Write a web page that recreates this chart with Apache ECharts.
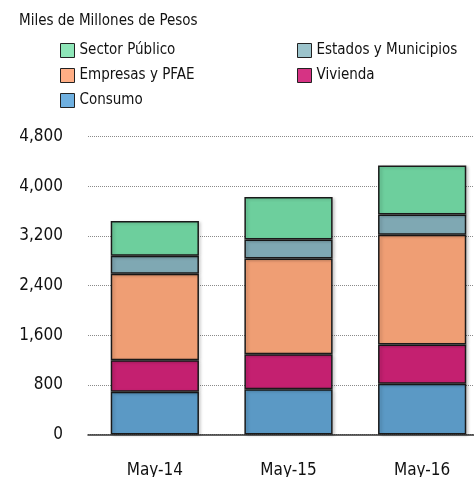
<!DOCTYPE html>
<html lang="es">
<head>
    <meta charset="UTF-8">
    <title>Crédito por sector</title>
    <script src="https://cdn.jsdelivr.net/npm/echarts@6/dist/echarts.min.js"></script>
    <style>
        html, body { margin: 0; padding: 0; background: #fff; }
        #chart { width: 474px; height: 477px; }
    </style>
</head>
<body>
<div id="chart"></div>
<script>
    // datos (miles de millones de pesos)
    var categories = ['May-14', 'May-15', 'May-16'];
    var consumo = [690, 729, 819];
    var vivienda = [507, 565, 629];
    var empresas = [1392, 1541, 1770];
    var estados = [290, 307, 327];
    var sectorPublico = [560, 684, 786];
    var yTicks = [0, 800, 1600, 2400, 3200, 4000, 4800];

    var font = '"DejaVu Sans Condensed", "Liberation Sans Narrow", sans-serif';
    var myChart = echarts.init(document.getElementById('chart'));

    function barSeries(name, data, color) {
        return {
            name: name,
            type: 'bar',
            stack: 'total',
            barCategoryGap: '34%',
            data: data,
            itemStyle: {
                color: color,
                borderColor: '#1a1a1a',
                borderWidth: 1.5,
                shadowColor: 'rgba(0,0,0,0.18)',
                shadowBlur: 3,
                shadowOffsetX: 2,
                shadowOffsetY: 1
            }
        };
    }

    var legendText = { fontFamily: font, fontSize: 15, color: '#111' };
    var option = {
        animation: false,
        title: {
            text: 'Miles de Millones de Pesos',
            left: 14,
            top: 9,
            textStyle: { fontFamily: font, fontSize: 15, fontWeight: 'normal', color: '#111' }
        },
        legend: [{
            orient: 'vertical',
            left: 55,
            top: 38,
            itemWidth: 14,
            itemHeight: 14,
            itemGap: 10,
            icon: 'rect',
            textStyle: legendText,
            data: [
                { name: 'Sector Público', itemStyle: { color: '#8ee6b8', borderColor: '#222', borderWidth: 1 } },
                { name: 'Empresas y PFAE', itemStyle: { color: '#ffae85', borderColor: '#222', borderWidth: 1 } },
                { name: 'Consumo', itemStyle: { color: '#6fb0e0', borderColor: '#222', borderWidth: 1 } }
            ]
        }, {
            orient: 'vertical',
            left: 292,
            top: 38,
            itemWidth: 14,
            itemHeight: 14,
            itemGap: 10,
            icon: 'rect',
            textStyle: legendText,
            data: [
                { name: 'Estados y Municipios', itemStyle: { color: '#9cc4cc', borderColor: '#222', borderWidth: 1 } },
                { name: 'Vivienda', itemStyle: { color: '#d63384', borderColor: '#222', borderWidth: 1 } }
            ]
        }],
        grid: { left: 88, width: 401, top: 136.5, height: 298, outerBoundsMode: 'none', containLabel: false },
        xAxis: {
            type: 'category',
            data: categories,
            axisTick: { show: false },
            axisLine: { lineStyle: { color: '#333', width: 1.5 } },
            axisLabel: { fontFamily: font, fontSize: 17, color: '#111', margin: 28 }
        },
        yAxis: {
            type: 'value',
            min: yTicks[0],
            max: yTicks[yTicks.length - 1],
            interval: yTicks[1] - yTicks[0],
            axisLine: { show: false },
            axisTick: { show: false },
            axisLabel: { fontFamily: font, fontSize: 17, color: '#111', margin: 25 },
            splitLine: { lineStyle: { color: '#8a8a8a', type: 'dotted', width: 1 } }
        },
        series: [
            barSeries('Consumo', consumo, '#5b99c5'),
            barSeries('Vivienda', vivienda, '#c42070'),
            barSeries('Empresas y PFAE', empresas, '#ef9e74'),
            barSeries('Estados y Municipios', estados, '#7fa8b3'),
            barSeries('Sector Público', sectorPublico, '#6dcf9d')
        ]
    };
    myChart.setOption(option);
</script>
</body>
</html>
